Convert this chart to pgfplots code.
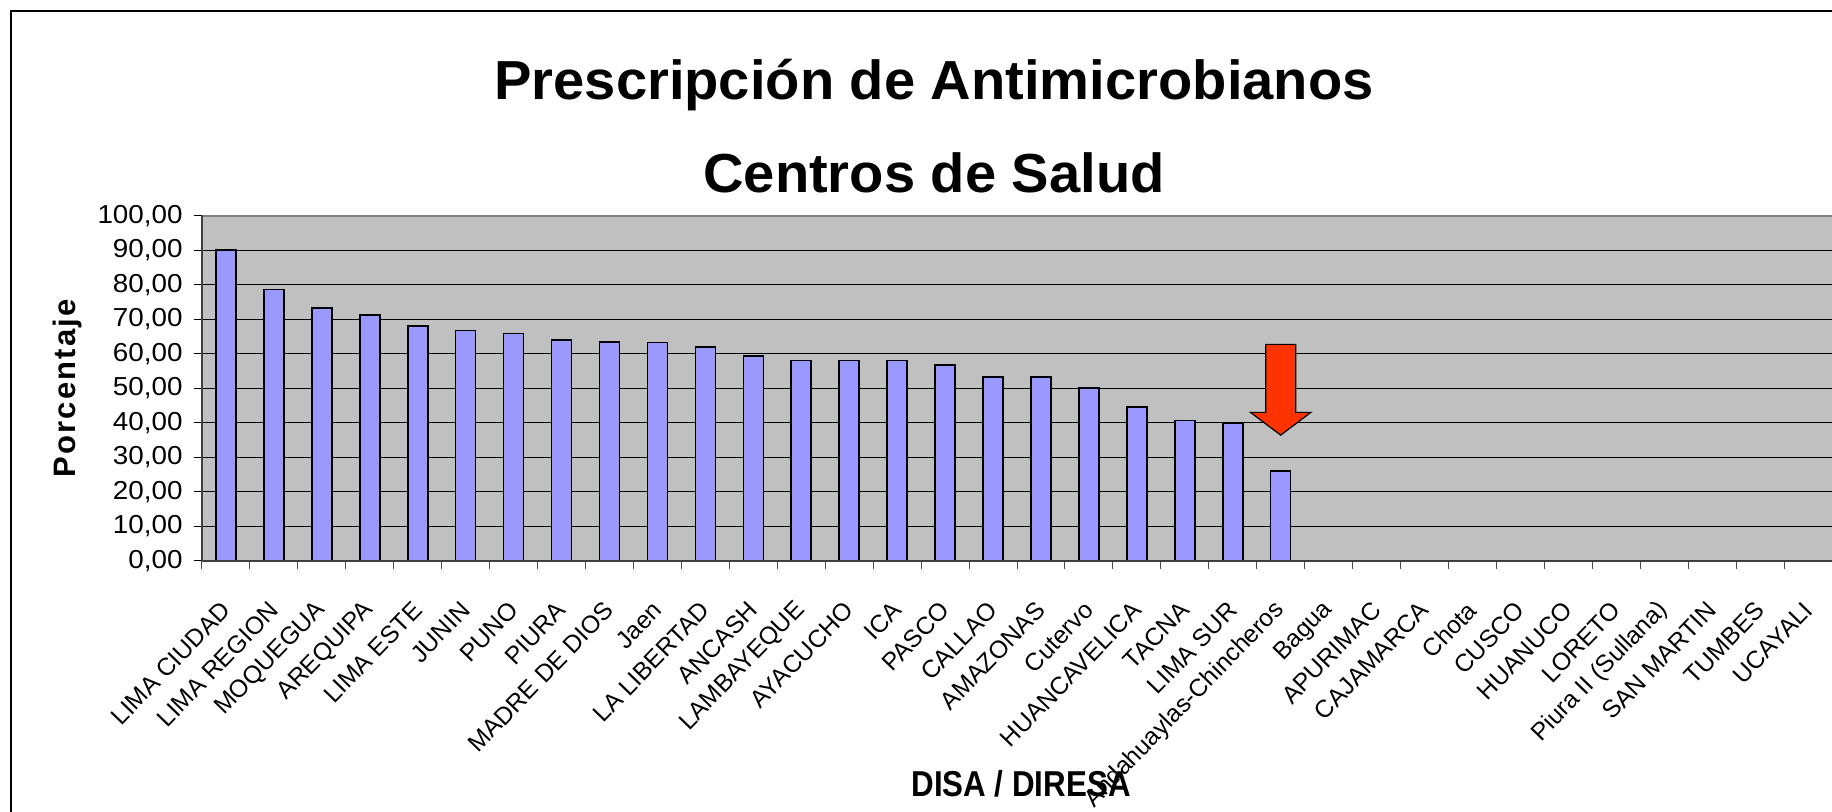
\documentclass[border=0pt]{standalone}
\usepackage{fontspec}
\setmainfont{Liberation Sans}
\newfontfamily\stretchfont[FakeStretch=1.07]{Liberation Sans}
\newfontfamily\titlefont[FakeStretch=1.02]{Liberation Sans}
\newfontfamily\narrowfont[FakeStretch=0.87]{Liberation Sans}
\newfontfamily\spacedfont[LetterSpace=7]{Liberation Sans}
\usepackage{pgfplots}
\pgfplotsset{compat=1.18}
\definecolor{barblue}{HTML}{9999FF}
\definecolor{plotgray}{HTML}{C0C0C0}
\definecolor{arrowred}{HTML}{FF3300}
\begin{document}
\begin{tikzpicture}
\useasboundingbox (-101pt,-125.15pt) rectangle (815pt,280.35pt);
\draw[line width=1pt] (-95.25pt,-140pt) -- (-95.25pt,275pt) -- (830pt,275pt);
\node[font=\titlefont\bfseries\fontsize{27.5}{27.5}\selectfont, anchor=base, inner sep=0pt] at (366pt,230.5pt) {Prescripción de Antimicrobianos};
\node[font=\titlefont\bfseries\fontsize{27.5}{27.5}\selectfont, anchor=base, inner sep=0pt] at (366pt,184pt) {Centros de Salud};
\begin{axis}[
  at={(0,0)}, anchor=south west,
  scale only axis, width=815pt, height=172.5pt,
  xmin=-0.5, xmax=33.5, ymin=0, ymax=100,
  axis background/.style={fill=plotgray},
  axis line style={draw=none},
  xtick pos=bottom, ytick pos=left,
  tick align=outside,
  major tick length=4pt, minor tick length=4pt,
  ytick={0,10,...,100},
  yticklabels={{0,00},{10,00},{20,00},{30,00},{40,00},{50,00},{60,00},{70,00},{80,00},{90,00},{100,00}},
  yticklabel style={font=\stretchfont\fontsize{13}{13}\selectfont, inner sep=0pt, anchor=east, xshift=-5.5pt},
  ytick style={black, line width=0.5pt},
  ymajorgrids, major y grid style={black, line width=0.5pt},
  xtick={0,...,33},
  minor xtick={-0.5,0.5,...,33.5},
  major x tick style={draw=none},
  minor x tick style={black!70, line width=0.5pt},
  xticklabels={LIMA CIUDAD,LIMA REGION,MOQUEGUA,AREQUIPA,LIMA ESTE,JUNIN,PUNO,PIURA,MADRE DE DIOS,Jaen,LA LIBERTAD,ANCASH,LAMBAYEQUE,AYACUCHO,ICA,PASCO,CALLAO,AMAZONAS,Cutervo,HUANCAVELICA,TACNA,LIMA SUR,Andahuaylas-Chincheros,Bagua,APURIMAC,CAJAMARCA,Chota,CUSCO,HUANUCO,LORETO,Piura II (Sullana),SAN MARTIN,TUMBES,UCAYALI},
  xticklabel style={font=\fontsize{12.3}{12.3}\selectfont, inner sep=0pt, yshift=-18.6pt, rotate=46, anchor=east},
  xlabel={DISA / DIRESA},
  every axis x label/.style={at={(axis description cs:0.5025,-0.684)}, anchor=base, inner sep=0pt, font=\narrowfont\bfseries\fontsize{18}{18}\selectfont},
  ylabel={Porcentaje},
  every axis y label/.style={at={(axis description cs:-0.0775,0.5)}, rotate=90, anchor=base, inner sep=0pt, font=\spacedfont\bfseries\fontsize{15.5}{15.5}\selectfont},
  clip=false,
]
\addplot[ybar, bar width=10pt, fill=barblue, draw=black, line width=0.8pt] coordinates {
(0,90.0) (1,78.6) (2,73.3) (3,71.2) (4,68.0) (5,66.7) (6,65.9) (7,64.0) (8,63.4) (9,63.3)
(10,62.0) (11,59.4) (12,58.0) (13,58.0) (14,58.0) (15,56.7) (16,53.3) (17,53.3) (18,50.0)
(19,44.6) (20,40.6) (21,40.0) (22,26.0)
};
\addplot[fill=arrowred, draw=black, line width=0.6pt, mark=none] coordinates {
(21.687,62.7) (22.313,62.7) (22.313,43.0) (22.63,43.0) (22.0,36.4) (21.37,43.0) (21.687,43.0)
} --cycle;
\draw[gray, line width=1pt] (rel axis cs:0,1) -- (rel axis cs:1,1);
\draw[black!75, line width=0.6pt] (rel axis cs:0,0) -- (rel axis cs:0,1);
\draw[black!75, line width=1pt] (rel axis cs:0,0) -- (rel axis cs:1,0);
\end{axis}
\end{tikzpicture}
\end{document}
